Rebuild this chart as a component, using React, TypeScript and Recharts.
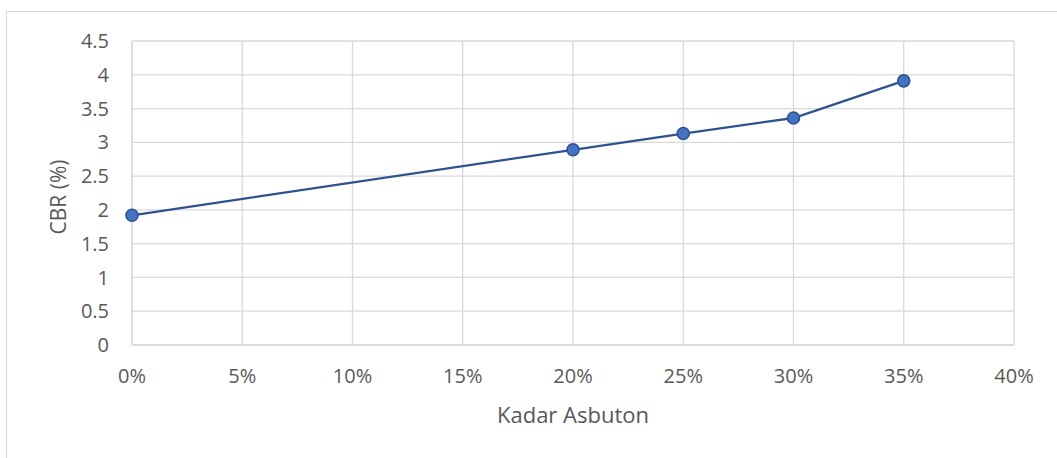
import React from 'react';
import { LineChart, Line, XAxis, YAxis, CartesianGrid } from 'recharts';

const kadar = [0, 0.2, 0.25, 0.3, 0.35];
const cbr = [1.92, 2.89, 3.13, 3.36, 3.91];
const xTicks = [0, 0.05, 0.1, 0.15, 0.2, 0.25, 0.3, 0.35, 0.4];
const yTicks = [0, 0.5, 1, 1.5, 2, 2.5, 3, 3.5, 4, 4.5];

const data = kadar.map((k, i) => ({ kadar: k, cbr: cbr[i] }));

const FONT = '"Open Sans", sans-serif';
const TEXT = '#595959';
const GRID = '#d9d9d9';

const YTitle = ({ viewBox }: any) => {
  const x = viewBox.x + 6;
  const y = viewBox.y + 156;
  return (
    <text
      x={x}
      y={y}
      transform={`rotate(-90, ${x}, ${y})`}
      textAnchor="middle"
      dominantBaseline="central"
      fill={TEXT}
      fontSize={21}
      fontFamily={FONT}
    >
      CBR (%)
    </text>
  );
};

const App: React.FC = () => {
  return (
    <div style={{ position: 'absolute', left: 0, top: 0, width: 1057, height: 458, background: '#fff', overflow: 'hidden' }}>
      <div
        style={{
          position: 'absolute',
          left: 6,
          top: 11,
          width: 1100,
          height: 500,
          border: `1px solid ${GRID}`,
        }}
      />
      <LineChart
        width={1057}
        height={458}
        data={data}
        margin={{ top: 41, right: 43, bottom: 33, left: 52 }}
        style={{ position: 'absolute', left: 0, top: 0 }}
      >
        <CartesianGrid stroke={GRID} strokeWidth={1.3} vertical={true} horizontal={true} />
        <XAxis
          dataKey="kadar"
          type="number"
          domain={[0, 0.4]}
          ticks={xTicks}
          tickFormatter={(v: number) => `${Math.round(v * 100)}%`}
          tickLine={false}
          tickSize={0}
          tickMargin={24}
          height={80}
          axisLine={{ stroke: GRID, strokeWidth: 1.3 }}
          tick={{ fill: TEXT, fontSize: 20, fontFamily: FONT }}
          interval={0}
          label={{
            value: 'Kadar Asbuton',
            position: 'insideBottom',
            offset: 2,
            fill: TEXT,
            fontSize: 22,
            fontFamily: FONT,
          }}
        />
        <YAxis
          type="number"
          domain={[0, 4.5]}
          ticks={yTicks}
          tickLine={false}
          tickSize={0}
          tickMargin={23}
          width={80}
          axisLine={{ stroke: GRID, strokeWidth: 1.3 }}
          tick={{ fill: TEXT, fontSize: 20, fontFamily: FONT }}
          interval={0}
          label={<YTitle />}
        />
        <Line
          type="linear"
          dataKey="cbr"
          stroke="#2f528f"
          strokeWidth={2.3}
          dot={{ r: 6, fill: '#4472c4', stroke: '#2f528f', strokeWidth: 1.6 }}
          isAnimationActive={false}
        />
      </LineChart>
    </div>
  );
};

export default App;
